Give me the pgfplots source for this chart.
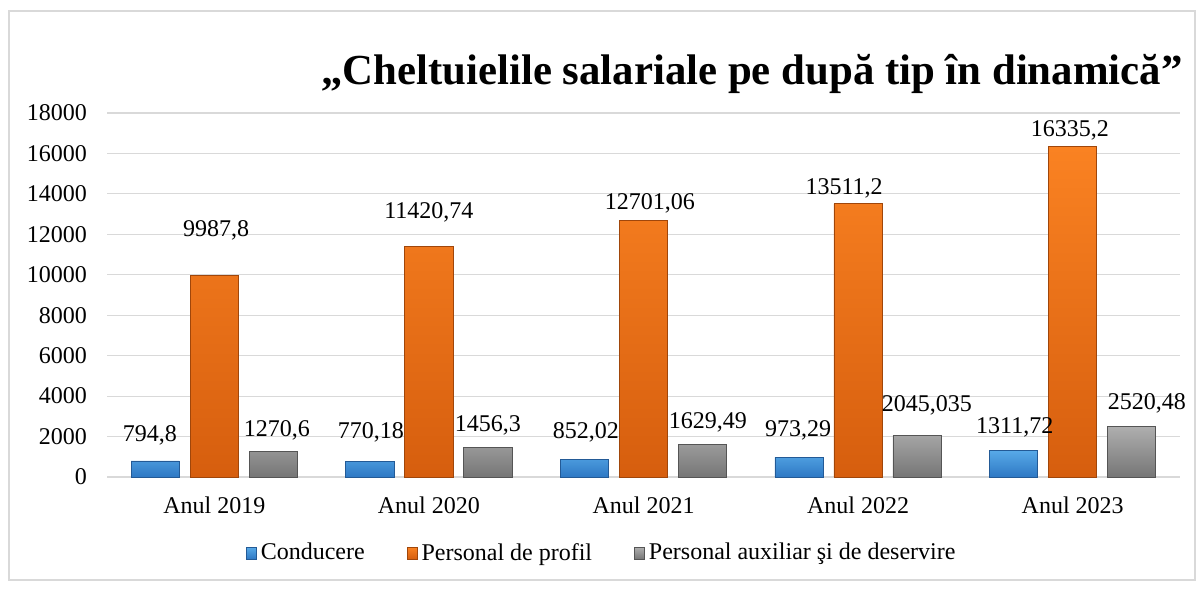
\documentclass[border=0pt]{standalone}
\usepackage{pgfplots}
\pgfplotsset{compat=1.18}
\usepackage{fontspec}
\setmainfont{Liberation Serif}
\definecolor{gridc}{HTML}{D9D9D9}
\definecolor{frame}{HTML}{D9D9D9}
\definecolor{bluet}{RGB}{88,170,232}
\definecolor{blueb}{RGB}{46,120,196}
\definecolor{bluee}{RGB}{35,90,150}
\definecolor{oranget}{RGB}{250,130,34}
\definecolor{orangeb}{RGB}{214,94,14}
\definecolor{orangee}{RGB}{160,70,10}
\definecolor{greyt}{RGB}{175,175,175}
\definecolor{greyb}{RGB}{118,118,118}
\definecolor{greye}{RGB}{85,85,85}
\begin{document}
\begin{tikzpicture}
\begin{axis}[
  name=ax,
  scale only axis,
  width=536.5pt, height=182pt,
  xmin=-0.5, xmax=4.5,
  ymin=0, ymax=18000,
  ytick={0,2000,...,18000},
  scaled y ticks=false,
  xtick={0,1,2,3,4},
  xticklabels={Anul 2019,Anul 2020,Anul 2021,Anul 2022,Anul 2023},
  axis line style={draw=none},
  major tick length=0pt,
  ymajorgrids,
  grid style={gridc, line width=0.6pt},
  clip=false,
  yticklabel={\pgfmathprintnumber[fixed, precision=0, 1000 sep={}, assume math mode=true]{\tick}},
  tick label style={font=\fontsize{12}{14}\selectfont},
  yticklabel style={anchor=east, xshift=-6.5pt},
  xticklabel style={anchor=base, yshift=-18pt},
  legend columns=-1,
  legend style={draw=none, at={(0.462,-0.209)}, anchor=center,
    font=\fontsize{12}{14}\selectfont,
    /tikz/every even column/.append style={column sep=19pt}},
  legend image code/.code={\path[#1] (0pt,-3pt) rectangle (5pt,3pt);},
  nodes near coords style={anchor=center, font=\fontsize{12}{14}\selectfont},
]
\addplot[ybar, bar width=0.225, bar shift=-0.275, top color=bluet, bottom color=blueb, draw=bluee, line width=0.4pt]
  coordinates {(0,794.8) (1,770.18) (2,852.02) (3,973.29) (4,1311.72)};
\addlegendentry{Conducere}
\addplot[ybar, bar width=0.225, bar shift=0, top color=oranget, bottom color=orangeb, draw=orangee, line width=0.4pt]
  coordinates {(0,9987.8) (1,11420.74) (2,12701.06) (3,13511.2) (4,16335.2)};
\addlegendentry{Personal de profil}
\addplot[ybar, bar width=0.225, bar shift=0.275, top color=greyt, bottom color=greyb, draw=greye, line width=0.4pt]
  coordinates {(0,1270.6) (1,1456.3) (2,1629.49) (3,2045.035) (4,2520.48)};
\addlegendentry{Personal auxiliar şi de deservire}
% data labels
\addplot[draw=none, mark=none, forget plot, nodes near coords, point meta=explicit symbolic]
  table[meta=l] {
x y l
-0.30 2077 794,8
0.73 2225 770,18
1.732 2225 852,02
2.72 2324 973,29
3.73 2472 1311,72
};
\addplot[draw=none, mark=none, forget plot, nodes near coords, point meta=explicit symbolic]
  table[meta=l] {
x y l
0.008 12214 9987,8
1.0 13104 11420,74
2.03 13549 12701,06
2.935 14291 13511,2
3.987 17159 16335,2
};
\addplot[draw=none, mark=none, forget plot, nodes near coords, point meta=explicit symbolic]
  table[meta=l] {
x y l
0.292 2324 1270,6
1.275 2571 1456,3
2.30 2720 1629,49
3.32 3560 2045,035
4.345 3659 2520,48
};
\end{axis}
\node[anchor=base, font=\bfseries\fontsize{21.4}{26}\selectfont] at ([shift={(322.5pt,14pt)}]ax.north west) {„Cheltuielile salariale pe după tip în dinamică”};
\draw[frame, line width=0.8pt] ([shift={(-49pt,-51.5pt)}]ax.south west) rectangle ([shift={(544pt,233pt)}]ax.south west);
\path ([shift={(-53.5pt,-55.5pt)}]ax.south west) rectangle ([shift={(547.5pt,238.5pt)}]ax.south west);
\end{tikzpicture}
\end{document}
